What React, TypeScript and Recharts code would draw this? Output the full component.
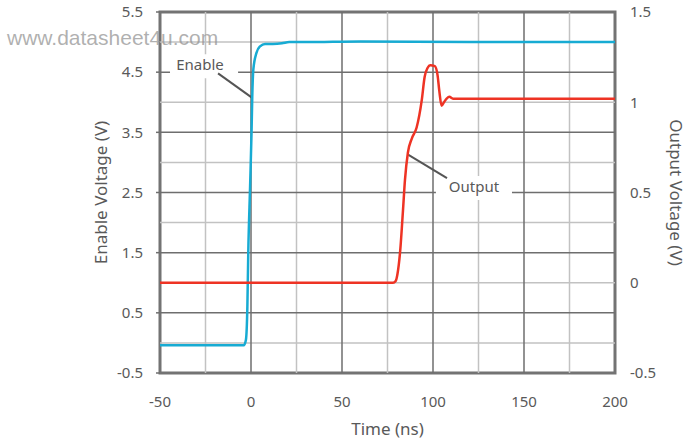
import React from 'react';
import { LineChart, Line, XAxis, YAxis, ReferenceLine, ReferenceArea, ReferenceDot } from 'recharts';

const enableT = [-50, -4, -2.8, -2, -1.5, -0.5, 0.3, 0.7, 1.3, 3, 5, 7.7, 12, 17, 21, 30, 60, 120, 200];
const enableV = [-0.04, -0.04, 0.05, 0.6, 1.5, 2.6, 3.5, 4.1, 4.55, 4.82, 4.93, 4.97, 4.97, 4.98, 5.0, 5.0, 5.01, 5.0, 5.0];

const outputT = [-50, 78, 79.5, 80.5, 82, 83.5, 84.6, 86.2, 88.4, 91, 93.8, 95.4, 97, 98.5, 101, 102.5, 103.5, 104.7, 106, 107.5, 109, 111, 113, 200];
const outputV = [0, 0, 0.01, 0.05, 0.18, 0.4, 0.57, 0.72, 0.8, 0.86, 1.01, 1.14, 1.19, 1.205, 1.2, 1.15, 1.06, 0.98, 1.0, 1.02, 1.03, 1.02, 1.02, 1.02];

const xTicks = [-50, 0, 50, 100, 150, 200];
const leftTicks = [-0.5, 0.5, 1.5, 2.5, 3.5, 4.5, 5.5];
const rightTicks = [-0.5, 0, 0.5, 1, 1.5];
const majorX = [0, 50, 100, 150];
const minorX = [-25, 25, 75, 125, 175];
const majorY = [0.5, 1.5, 2.5, 3.5, 4.5];
const minorY = [0, 1, 2, 3, 4, 5];

const enableData = enableT.map((t, i) => ({ t, v: enableV[i] }));
const outputData = outputT.map((t, i) => ({ t, v: outputV[i] }));

const FONT = '"Noto Sans", sans-serif';
const TXT = '#595959';
const DARK = '#6e6e6e';
const LIGHT = '#c2c2c2';

const LeftTitle = (props: any) => {
  const vb = props.viewBox;
  const x = vb.x + 100;
  const y = vb.y + vb.height / 2;
  return (
    <text x={x} y={y} transform={`rotate(-90 ${x} ${y})`} textAnchor="middle" dominantBaseline="central"
      fontFamily={FONT} fontSize={17} fill={TXT}>Enable Voltage (V)</text>
  );
};

const RightTitle = (props: any) => {
  const vb = props.viewBox;
  const x = vb.x + 61;
  const y = vb.y + vb.height / 2;
  return (
    <text x={x} y={y} transform={`rotate(90 ${x} ${y})`} textAnchor="middle" dominantBaseline="central"
      fontFamily={FONT} fontSize={17} fill={TXT}>Output Voltage (V)</text>
  );
};

const BottomTitle = (props: any) => {
  const vb = props.viewBox;
  const x = vb.x + vb.width / 2;
  const y = vb.y + 62;
  return (
    <text x={x} y={y} textAnchor="middle" fontFamily={FONT} fontSize={17} fill={TXT}>Time (ns)</text>
  );
};

export default function App() {
  return (
    <div style={{ position: 'absolute', left: 0, top: 0, width: 686, height: 445, background: '#fff' }}>
      <LineChart width={686} height={445} margin={{ top: 12, right: 0, bottom: 0, left: 0 }}>
        <XAxis type="number" dataKey="t" domain={[-50, 200]} ticks={xTicks} allowDataOverflow
          axisLine={false} tickLine={false} tickSize={6} tickMargin={17} height={72}
          tick={{ fontFamily: FONT, fontSize: 15, fill: TXT }} label={<BottomTitle />} />
        <YAxis yAxisId="left" orientation="left" type="number" domain={[-0.5, 5.5]} ticks={leftTicks}
          allowDataOverflow width={160} axisLine={false} tickLine={{ stroke: DARK, strokeWidth: 1.5 }}
          tickSize={4} tickMargin={13} tick={{ fontFamily: FONT, fontSize: 15, fill: TXT }}
          label={<LeftTitle />} />
        <YAxis yAxisId="right" orientation="right" type="number" domain={[-0.5, 1.5]} ticks={rightTicks}
          allowDataOverflow width={71} axisLine={false} tickLine={false} tickSize={0} tickMargin={15}
          tick={{ fontFamily: FONT, fontSize: 15, fill: TXT }} label={<RightTitle />} />

        {minorX.map((x) => (
          <ReferenceLine key={'mx' + x} x={x} yAxisId="left" stroke={LIGHT} strokeWidth={1.5} />
        ))}
        {minorY.map((y) => (
          <ReferenceLine key={'my' + y} y={y} yAxisId="left" stroke={LIGHT} strokeWidth={1.5} />
        ))}
        {majorX.map((x) => (
          <ReferenceLine key={'Mx' + x} x={x} yAxisId="left" stroke={DARK} strokeWidth={1.5} />
        ))}
        {majorY.map((y) => (
          <ReferenceLine key={'My' + y} y={y} yAxisId="left" stroke={DARK} strokeWidth={1.5} />
        ))}

        <ReferenceLine yAxisId="left" segment={[{ x: -44.5, y: 4.6 }, { x: -7.1, y: 4.6 }]} stroke="#fff" strokeWidth={24} />
        <ReferenceLine yAxisId="right" segment={[{ x: 101.6, y: 0.525 }, { x: 143.4, y: 0.525 }]} stroke="#fff" strokeWidth={24} />

        <ReferenceLine yAxisId="left" segment={[{ x: -18.1, y: 4.48 }, { x: 0.3, y: 4.08 }]} stroke="#555" strokeWidth={2} />
        <ReferenceLine yAxisId="right" segment={[{ x: 86.3, y: 0.71 }, { x: 107.7, y: 0.58 }]} stroke="#555" strokeWidth={2} />

        <ReferenceDot yAxisId="left" x={-28} y={4.62} r={0} fill="none" stroke="none"
          label={{ value: 'Enable', position: 'center', fontFamily: FONT, fontSize: 15, fill: TXT }} />
        <ReferenceDot yAxisId="right" x={122.5} y={0.53} r={0} fill="none" stroke="none"
          label={{ value: 'Output', position: 'center', fontFamily: FONT, fontSize: 15, fill: TXT }} />

        <ReferenceArea yAxisId="left" x1={-50} x2={200} y1={-0.5} y2={5.5} fill="none" stroke="#737373" strokeWidth={3} />

        <Line yAxisId="left" data={enableData} dataKey="v" type="monotone" stroke="#17abd3" strokeWidth={2.5}
          dot={false} isAnimationActive={false} />
        <Line yAxisId="right" data={outputData} dataKey="v" type="monotone" stroke="#ee3324" strokeWidth={2.5}
          dot={false} isAnimationActive={false} />
      </LineChart>
      <div style={{ position: 'absolute', left: 7, top: 26, fontFamily: '"Liberation Sans", Arial, sans-serif',
        fontSize: 21, color: 'rgba(150,150,150,0.75)', pointerEvents: 'none', whiteSpace: 'nowrap' }}>
        www.datasheet4u.com
      </div>
    </div>
  );
}
